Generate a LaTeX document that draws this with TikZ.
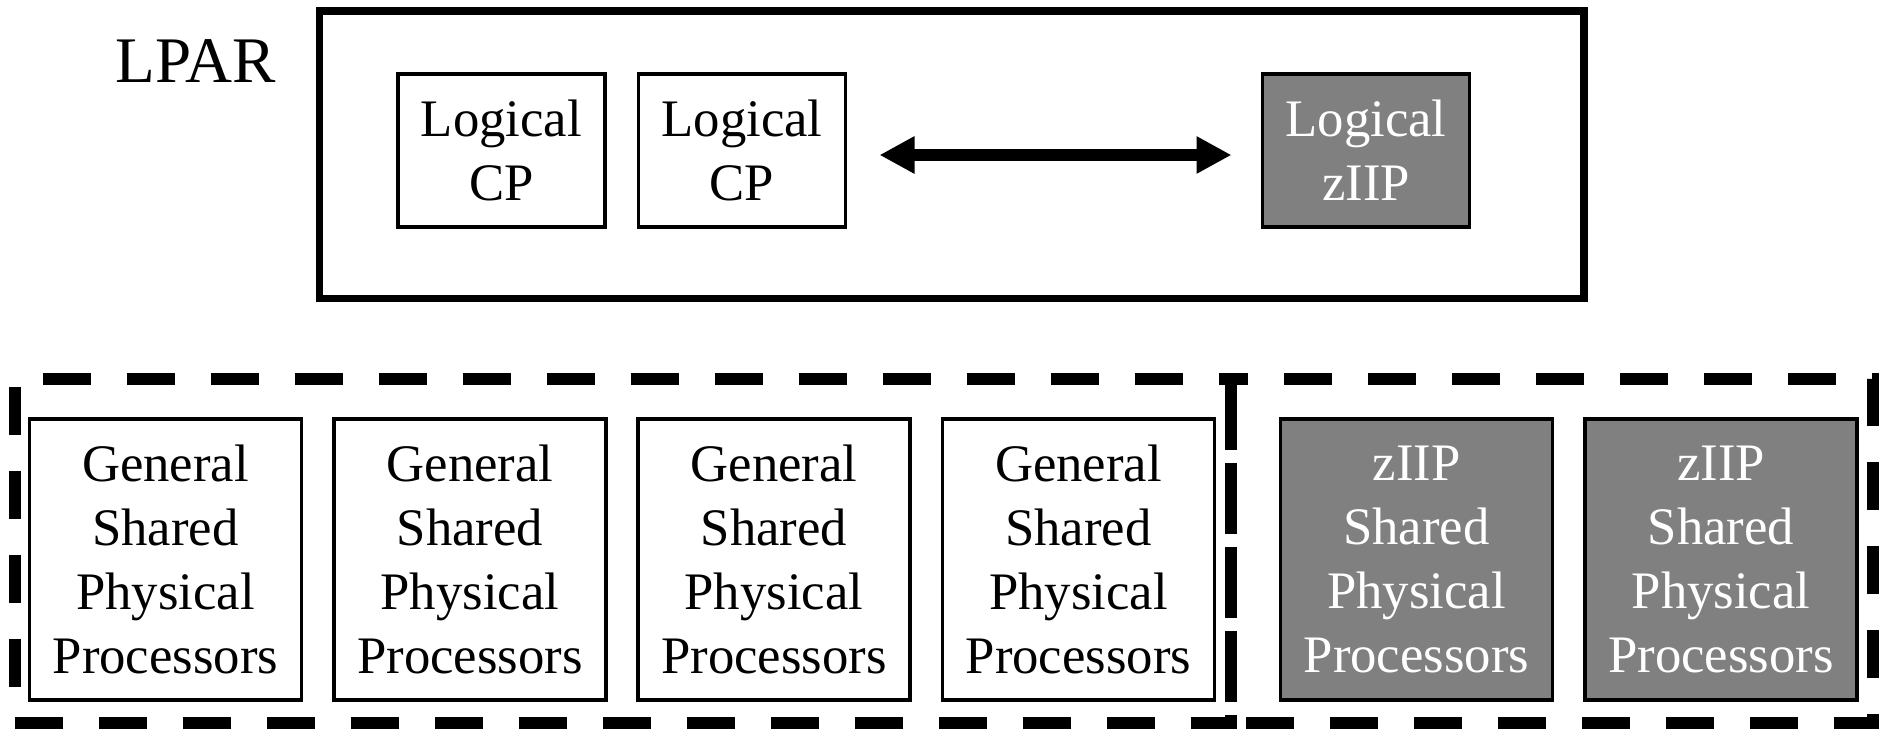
\documentclass[tikz,border=0pt]{standalone}
\usepackage{fontspec}
\setmainfont{Liberation Serif}
\usetikzlibrary{arrows.meta}
\definecolor{ziipgray}{RGB}{128,128,128}
\tikzset{
  cpbox/.style={draw, line width=1.1pt, outer sep=0pt, inner sep=0pt,
    minimum width=2.07cm, minimum height=1.53cm, align=center,
    font=\fontsize{15}{18.2}\selectfont},
  physbox/.style={cpbox, minimum width=2.72cm, minimum height=2.81cm},
  ziipbox/.style={fill=ziipgray, text=white},
  poolframe/.style={line width=0.12cm, dash pattern=on 0.48cm off 0.36cm},
  bigtip/.tip={Triangle[length=0.35cm,width=0.35cm]}
}

\begin{document}
\begin{tikzpicture}
\useasboundingbox (0,0) rectangle (18.79,7.33);
% LPAR
\draw[line width=2.1pt] (3.195,4.343) rectangle (15.84,7.22);
\node[anchor=base, font=\fontsize{18.5}{22}\selectfont] (lpar) at (1.96,6.50) {LPAR};
\node[cpbox] (cp1) at (5.015,5.825) {Logical\\CP};
\node[cpbox] (cp2) at (7.42,5.825) {Logical\\CP};
\node[cpbox,ziipbox] (lziip) at (13.66,5.825) {Logical\\zIIP};
\draw[line width=0.12cm, bigtip-bigtip, shorten <=0.34cm, shorten >=0.31cm]
  ([yshift=-0.045cm]cp2.east) -- ([yshift=-0.045cm]lziip.west);
% shared pools
\draw[poolframe] (12.31,3.54) -- (12.31,0.10) -- (0.15,0.10) -- (0.15,3.54) -- cycle;
\draw[poolframe, dash phase=0.61cm] (12.31,3.54) -- (12.31,0.10) -- (18.73,0.10) -- (18.73,3.54) -- cycle;
\foreach \x [count=\i] in {1.655,4.70,7.74,10.785}
  \node[physbox] (gp\i) at (\x,1.735) {General\\Shared\\Physical\\Processors};
\foreach \x [count=\i] in {14.165,17.21}
  \node[physbox,ziipbox] (zp\i) at (\x,1.735) {zIIP\\Shared\\Physical\\Processors};
\end{tikzpicture}
\end{document}
